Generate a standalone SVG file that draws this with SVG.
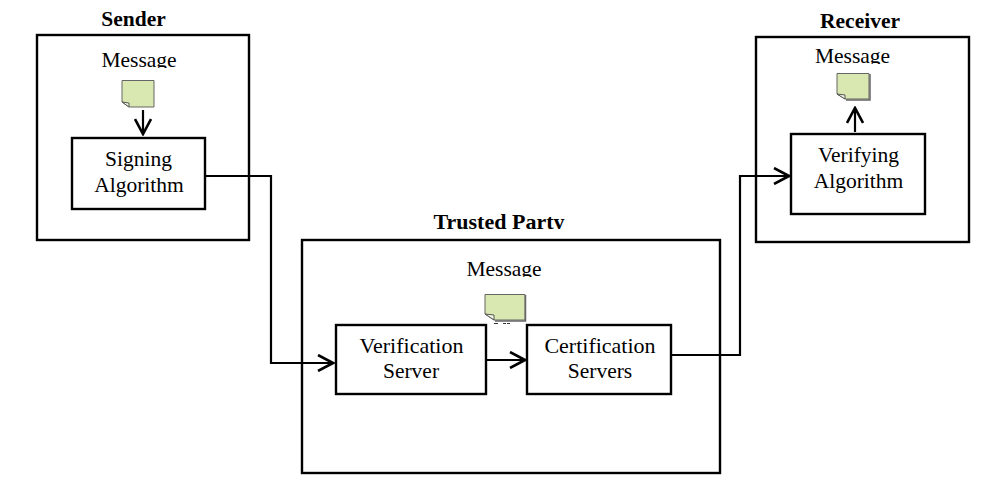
<svg xmlns="http://www.w3.org/2000/svg" width="1001" height="488" viewBox="0 0 1001 488">
<style>
text{font-family:"Liberation Serif","Times New Roman",serif;fill:#000;text-anchor:middle}
.t{font-size:21.500px;font-weight:bold}
.l{font-size:21.500px}
.w{font-size:22px}
.box{fill:#fff;stroke:#000;stroke-width:2.400}
.wire{fill:none;stroke:#000;stroke-width:2.200}
.doc{fill:#d8e8b0;stroke:#666;stroke-width:1}
.fold{fill:#f2f5e0;stroke:#555;stroke-width:1}
.shade{fill:none;stroke:#666;stroke-width:1.500}
</style>
<defs>
<marker id="open" viewBox="0 0 18 18" refX="16" refY="9" markerWidth="18" markerHeight="18" markerUnits="userSpaceOnUse" orient="auto"><path d="M1 1L16 9L1 17" fill="none" stroke="#000" stroke-width="2.600"/></marker>
<clipPath id="cut-sender"><rect x="90" y="45" width="100" height="23"/></clipPath>
<clipPath id="cut-trusted-title"><rect x="420" y="205" width="160" height="24"/></clipPath>
<clipPath id="cut-trusted"><rect x="450" y="255" width="110" height="22"/></clipPath>
<clipPath id="cut-receiver"><rect x="800" y="42" width="100" height="22"/></clipPath>
</defs>
<rect width="1001" height="488" fill="#fff"/>
<g id="sender">
<text class="t" x="133.500" y="26">Sender</text>
<rect class="box" x="37" y="35" width="212" height="205"/>
<text class="l" x="139" y="67" clip-path="url(#cut-sender)">Message</text>
<path class="doc" d="M122 80.500H154V107H129L122 102Z"/>
<path class="fold" d="M122 102L129 103V107Z"/>
<rect class="box" x="72" y="138" width="133" height="71"/>
<text class="l" x="138.500" y="166">Signing</text>
<text class="l" x="139" y="192">Algorithm</text>
</g>
<g id="trusted-party">
<text class="t w" x="499" y="229" clip-path="url(#cut-trusted-title)">Trusted Party</text>
<rect class="box" x="302" y="240" width="418" height="233"/>
<text class="l" x="504" y="276" clip-path="url(#cut-trusted)">Message</text>
<path class="doc" d="M485 294.500H525V320H494L485 314Z"/>
<path class="fold" d="M485 314L494 315V320Z"/>
<path class="shade" d="M525.500 295V321H495"/>
<path d="M494 323.500h4M503 323.500h3M507 323.500h3" fill="none" stroke="#333" stroke-width="1"/>
</g>
<g id="verification-server">
<rect class="box" x="336" y="325" width="150" height="69"/>
<text class="w" x="411.500" y="353">Verification</text>
<text class="l" x="411" y="378">Server</text>
</g>
<g id="certification-servers">
<rect class="box" x="527" y="325" width="144" height="69"/>
<text class="w" x="600" y="353">Certification</text>
<text class="l" x="600" y="378">Servers</text>
</g>
<g id="receiver">
<text class="t" x="860" y="28">Receiver</text>
<rect class="box" x="756" y="37" width="213" height="205"/>
<text class="l" x="852.500" y="63" clip-path="url(#cut-receiver)">Message</text>
<path class="doc" d="M837 73.500H869V99H845L837 94Z"/>
<path class="fold" d="M837 94L845 95V99Z"/>
<path class="shade" d="M870 74V100H846"/>
<rect class="box" x="791" y="134" width="134" height="80"/>
<text class="l" x="858.500" y="162">Verifying</text>
<text class="l" x="858.500" y="188">Algorithm</text>
</g>
<g id="connectors">
<path class="wire" marker-end="url(#open)" d="M143 110V134"/>
<path class="wire" marker-end="url(#open)" d="M205 176H271V363H333"/>
<path class="wire" marker-end="url(#open)" d="M487 360H525"/>
<path class="wire" marker-end="url(#open)" d="M671 355H740V176H789"/>
<path class="wire" marker-end="url(#open)" d="M855 132V108"/>
</g>
</svg>
